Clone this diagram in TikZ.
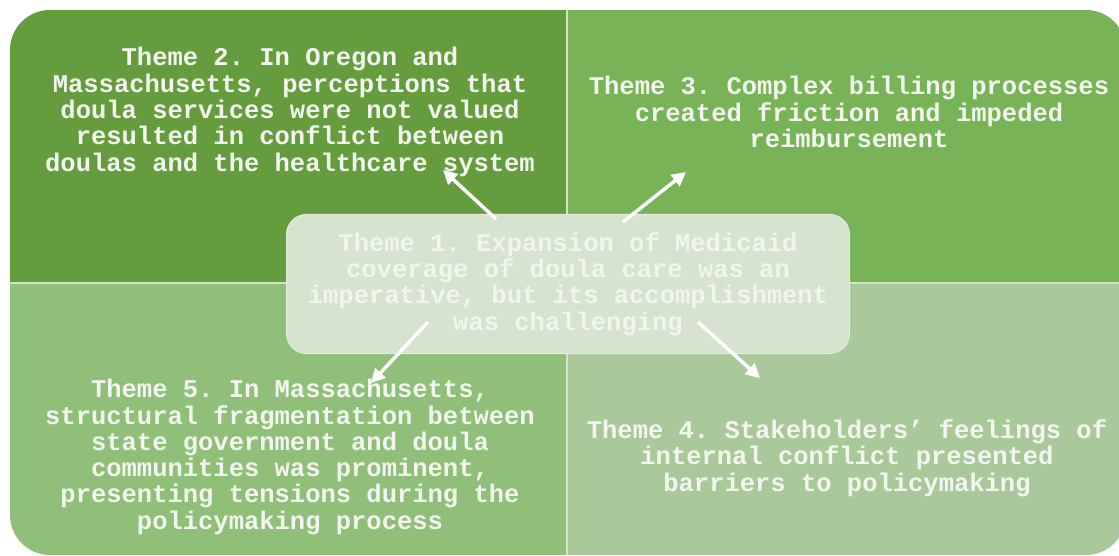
\documentclass[tikz,border=0pt]{standalone}
\usepackage{fontspec}
\setmonofont{Liberation Mono}
\usetikzlibrary{arrows.meta,positioning}
\definecolor{greenTL}{HTML}{659D3E}
\definecolor{greenTR}{HTML}{78B457}
\definecolor{greenBL}{HTML}{8FBF79}
\definecolor{greenBR}{HTML}{A9C99B}
\definecolor{themetext}{HTML}{F3F6EF}
\definecolor{corefill}{HTML}{D6E3CE}
\definecolor{coreline}{HTML}{E4EDDD}
\definecolor{coretext}{HTML}{F1F5EE}
\definecolor{sepline}{HTML}{D2E4C6}
\tikzset{
  theme/.style={font={\ttfamily\bfseries\fontsize{25.5}{26.3}\selectfont}, text=themetext, align=center, inner sep=0pt},
  core/.style={theme, text=coretext, fill=corefill, draw=coreline, line width=1pt, rounded corners=20pt, minimum width=563pt, minimum height=139pt},
  pointer/.style={-{Triangle[length=14pt,width=14pt]}, draw=white, fill=white, line width=3.5pt},
  sep/.style={draw=sepline, line width=1.5pt}
}
\begin{document}
\begin{tikzpicture}[x=1pt,y=-1pt]
  \useasboundingbox (0,0) rectangle (1119,556);

  % quadrants
  \begin{scope}
    \clip (0,0) rectangle (1119,556);
    \clip[rounded corners=40pt] (10,10) rectangle (1126,555);
    \fill[greenTL] (10,10) rectangle (567,283);
    \fill[greenTR] (567,10) rectangle (1126,283);
    \fill[greenBL] (10,283) rectangle (567,555);
    \fill[greenBR] (567,283) rectangle (1126,555);
    \path[sep] (567,10) -- (567,555);
    \path[sep] (10,283) -- (1126,283);
  \end{scope}

  \node[theme] (t2) at (290,112) {Theme 2. In Oregon and\\Massachusetts, perceptions that\\doula services were not valued\\resulted in conflict between\\doulas and the healthcare system};
  \node[theme] (t3) at (849,112) {Theme 3. Complex billing processes\\created friction and impeded\\reimbursement};
  \node[theme] (t5) at (290,457) {Theme 5. In Massachusetts,\\structural fragmentation between\\state government and doula\\communities was prominent,\\presenting tensions during the\\policymaking process};
  \node[theme] (t4) at (847,458) {Theme 4. Stakeholders’ feelings of\\internal conflict presented\\barriers to policymaking};
  \node[core] (t1) at (568,284) {Theme 1. Expansion of Medicaid\\coverage of doula care was an\\imperative, but its accomplishment\\was challenging};

  % arrows
  \coordinate (s2) at (496,219);
  \coordinate (e2) at (443,170);
  \coordinate (s3) at (623,222);
  \coordinate (e3) at (686,172);
  \coordinate (s5) at (428,322);
  \coordinate (e5) at (371,383);
  \coordinate (s4) at (698,322);
  \coordinate (e4) at (760,378);
  \draw[pointer] (s2) -- (e2);
  \draw[pointer] (s3) -- (e3);
  \draw[pointer] (s5) -- (e5);
  \draw[pointer] (s4) -- (e4);
\end{tikzpicture}
\end{document}
